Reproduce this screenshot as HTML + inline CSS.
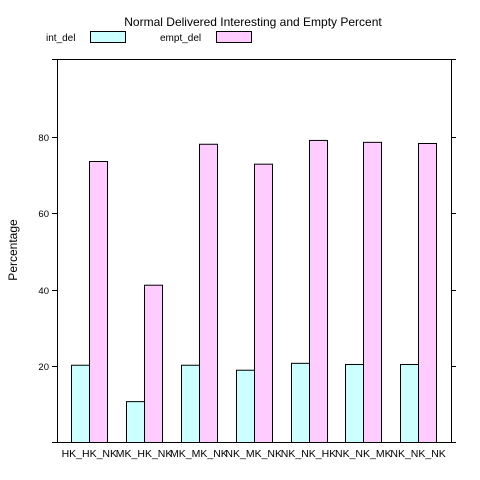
<!DOCTYPE html>
<html><head><meta charset="utf-8"><style>body{margin:0;background:#fff}svg{display:block;font-family:"Liberation Sans",Arial,sans-serif}</style></head>
<body>
<svg id="c" width="480" height="480" viewBox="0 0 480 480">
<text x="253" y="26" font-size="12" text-anchor="middle">Normal Delivered Interesting and Empty Percent</text>
<g>
<text x="46" y="41" font-size="10">int_del</text>
<rect x="90.5" y="31.5" width="35" height="11" fill="#ccffff" stroke="#000"/>
<text x="160" y="41" font-size="10">empt_del</text>
<rect x="216.5" y="31.5" width="35" height="11" fill="#ffccff" stroke="#000"/>
</g>
<text transform="translate(17,250) rotate(-90)" font-size="12" text-anchor="middle">Percentage</text>
<g id="plot"></g>
</svg>
<script>
const categories=["HK_HK_NK","MK_HK_NK","MK_MK_NK","NK_MK_NK","NK_NK_HK","NK_NK_MK","NK_NK_NK"];
const intDel=[20.3,10.8,20.3,19,20.8,20.5,20.5];
const emptDel=[73.5,41.2,78,72.8,79,78.5,78.2];
const yTicks=[20,40,60,80];
const NS="http://www.w3.org/2000/svg";
const g=document.getElementById('plot');
const L=57,R=451,T=59,B=442;
const y=v=>443-3.83*v;
const pitch=54.8;
const cx=i=>89.3+pitch*i;
function mk(t,a){const e=document.createElementNS(NS,t);for(const k in a)e.setAttribute(k,a[k]);g.appendChild(e);return e;}
let f=mk('rect',{x:L+.5,y:T+.5,width:R-L,height:B-T,fill:'none',stroke:'#000'});


[0,100].forEach(v=>{let l=mk('line',{x1:52,x2:456,y1:v==0?B+.5:T+.5,y2:v==0?B+.5:T+.5,stroke:'#000'});

});
yTicks.forEach(v=>{const yy=Math.round(y(v))+.5;
let a=mk('line',{x1:52,x2:L,y1:yy,y2:yy,stroke:'#000'});


let b=mk('line',{x1:R,x2:456,y1:yy,y2:yy,stroke:'#000'});


let t=mk('text',{x:49,y:yy+3.5,'font-size':9.5,'text-anchor':'end'});t.textContent=v;

});
categories.forEach((c,i)=>{const x=cx(i);const bw=18;
let r1=mk('rect',{x:Math.round(x-bw)+.5,y:y(intDel[i]),width:bw,height:B-y(intDel[i])+.5,fill:'#ccffff',stroke:'#000'});


let r2=mk('rect',{x:Math.round(x)+.5,y:y(emptDel[i]),width:bw,height:B-y(emptDel[i])+.5,fill:'#ffccff',stroke:'#000'});


let t=mk('text',{x:x,y:457,'font-size':10.5,'text-anchor':'middle'});t.textContent=c;

});
</script>
</body></html>
